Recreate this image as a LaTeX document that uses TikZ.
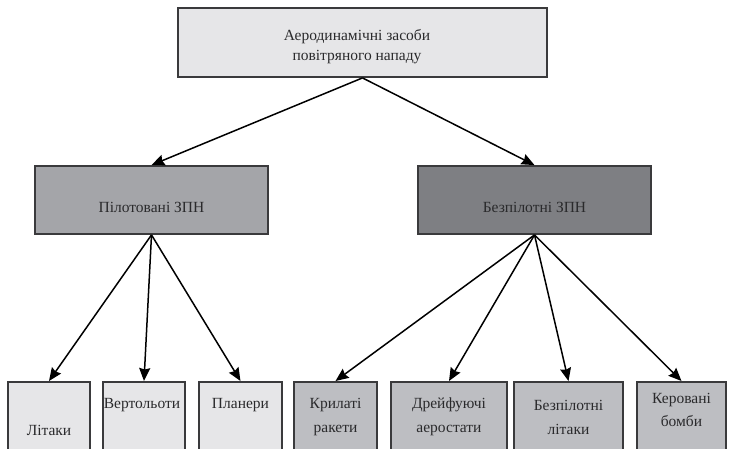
\documentclass[tikz,border=0pt]{standalone}
\usepackage{fontspec}
\setmainfont{Liberation Serif}
\usetikzlibrary{arrows.meta}
\definecolor{bordo}{HTML}{3A3A3C}
\definecolor{testo}{HTML}{2A2A2C}
\definecolor{chiaro}{HTML}{E6E6E8}
\definecolor{medio}{HTML}{A4A5A9}
\definecolor{scuro}{HTML}{7E7F83}
\definecolor{grigio}{HTML}{BDBEC2}
\tikzset{
>={Stealth[length=13pt,width=11pt,inset=1.5pt]},
riquadro/.style={draw=bordo,line width=1.8pt,text=testo,font=\rmfamily\fontsize{15.5}{20}\selectfont,align=center},
root node/.style={riquadro,fill=chiaro,minimum width=369,minimum height=69},
group node/.style={riquadro,minimum width=233,minimum height=68},
leaf node/.style={riquadro,anchor=north,minimum height=90},
scritta/.style={text=testo,font=\rmfamily\fontsize{15.5}{24}\selectfont,align=center,inner sep=0pt},
freccia/.style={->,line width=1.5pt}}

\begin{document}
\begin{tikzpicture}[x=1pt,y=-1pt]
\useasboundingbox (0,0) rectangle (729,448);
\clip (0,0) rectangle (729,448);

\node[root node] (root) at (362.5,42.5) {};
\node[scritta,font=\rmfamily\fontsize{15.5}{20}\selectfont] (t-root) at (357,47) {Аеродинамічні засоби\\повітряного нападу};

\node[group node,fill=medio] (pil) at (151.5,200) {};
\node[group node,fill=scuro] (bez) at (534.5,200) {};
\node[scritta,anchor=base] (t-pil) at (151.5,212) {Пілотовані ЗПН};
\node[scritta,anchor=base] (t-bez) at (534.5,212) {Безпілотні ЗПН};

\node[leaf node,fill=chiaro,minimum width=82] (litaky) at (49,381) {};
\node[leaf node,fill=chiaro,minimum width=82] (vert) at (144,381) {};
\node[leaf node,fill=chiaro,minimum width=83] (plan) at (240.5,381) {};
\node[leaf node,fill=grigio,minimum width=83] (kryl) at (335.5,381) {};
\node[leaf node,fill=grigio,minimum width=116] (dreif) at (449,381) {};
\node[leaf node,fill=grigio,minimum width=109] (bpl) at (568.5,381) {};
\node[leaf node,fill=grigio,minimum width=89] (ker) at (681.5,381) {};

\node[scritta,anchor=base] (t-litaky) at (49,435) {Літаки};
\node[scritta,anchor=base] (t-vert) at (142,408) {Вертольоти};
\node[scritta,anchor=base] (t-plan) at (240.5,408) {Планери};
\node[scritta] (t-kryl) at (335.5,417) {Крилаті\\ракети};
\node[scritta] (t-dreif) at (449,417) {Дрейфуючі\\аеростати};
\node[scritta] (t-bpl) at (568.5,417) {Безпілотні\\літаки};
\node[scritta,font=\rmfamily\fontsize{15.5}{23}\selectfont] (t-ker) at (681.5,410) {Керовані\\бомби};

\path[freccia] (root.south) edge (pil.north);
\path[freccia] (root.south) edge (bez.north);
\path[freccia] (pil.south) edge (litaky.north);
\path[freccia] (pil.south) edge (vert.north);
\path[freccia] (pil.south) edge (plan.north);
\path[freccia] (bez.south) edge (kryl.north);
\path[freccia] (bez.south) edge (dreif.north);
\path[freccia] (bez.south) edge (bpl.north);
\path[freccia] (bez.south) edge (ker.north);

\end{tikzpicture}
\end{document}
